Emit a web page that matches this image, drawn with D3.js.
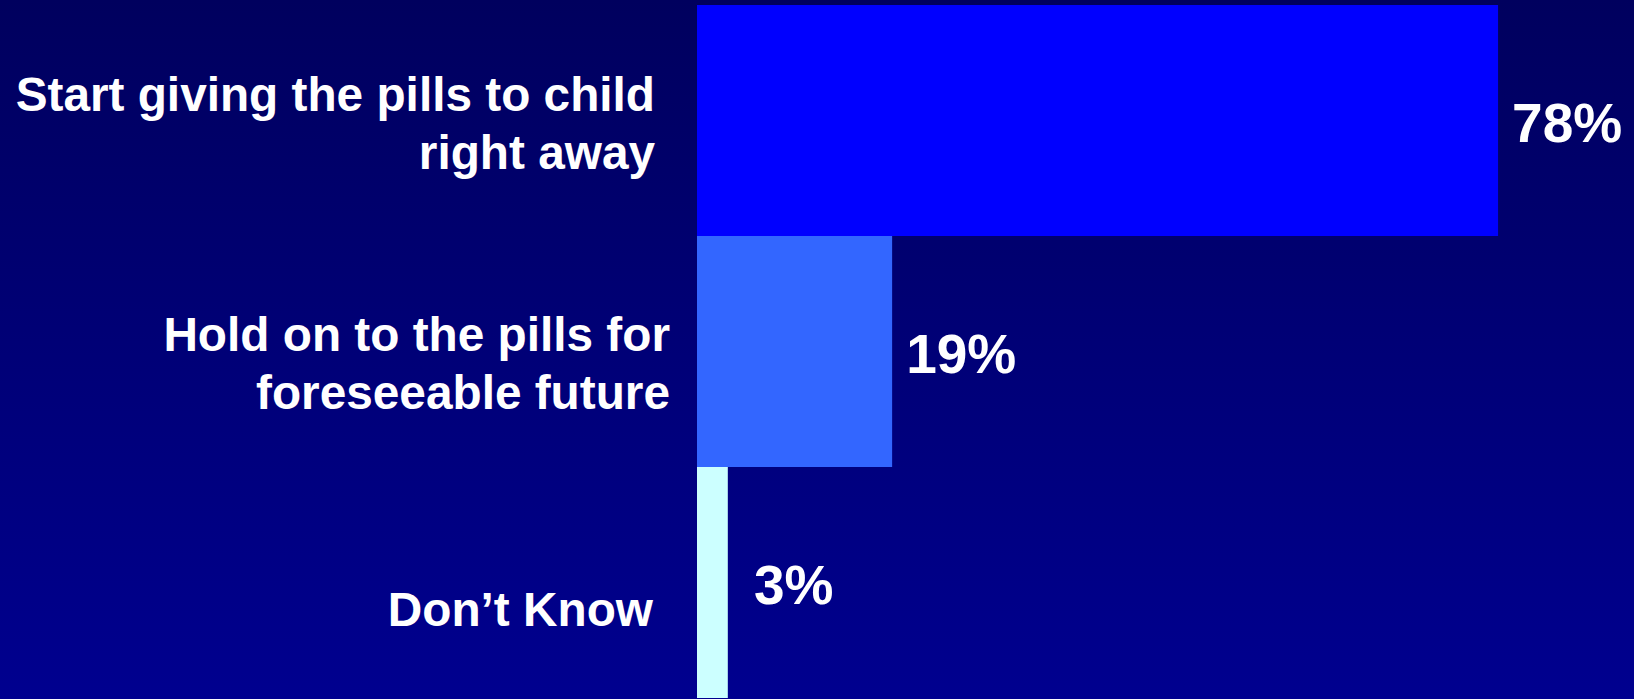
<!DOCTYPE html>
<html>
<head>
<meta charset="utf-8">
<script src="https://cdn.jsdelivr.net/npm/d3@7"></script>
<style>
  html, body { margin: 0; padding: 0; overflow: hidden; background: #000070; }
  svg { display: block; }
</style>
</head>
<body>
<script>
// Survey responses: what parents would do with the pills
const categories = [
  ["Start giving the pills to child", "right away"],
  ["Hold on to the pills for", "foreseeable future"],
  ["Don\u2019t Know"]
];
const values = [78, 19, 3];
const barColors = ["#0000FF", "#3366FF", "#CCFFFF"];

const W = 1634, H = 699;
const svg = d3.select("body").append("svg")
  .attr("width", W).attr("height", H);

// Vertical background gradient, dark navy to slightly brighter blue
const defs = svg.append("defs");
const grad = defs.append("linearGradient")
  .attr("id", "bg").attr("x1", 0).attr("y1", 0).attr("x2", 0).attr("y2", 1);
grad.append("stop").attr("offset", "0%").attr("stop-color", "#00005E");
grad.append("stop").attr("offset", "100%").attr("stop-color", "#00008F");
svg.append("rect").attr("width", W).attr("height", H).attr("fill", "url(#bg)");

const keys = categories.map((c, i) => i);
const x = d3.scaleLinear().domain([0, 100]).range([697, 1724]);
const y = d3.scaleBand().domain(keys).range([5, 698]).padding(0);

// Bars
svg.selectAll("rect.bar")
  .data(values)
  .join("rect")
  .attr("class", "bar")
  .attr("x", x(0))
  .attr("y", (d, i) => y(i))
  .attr("width", d => x(d) - x(0))
  .attr("height", y.bandwidth())
  .attr("fill", (d, i) => barColors[i]);

// Value labels to the right of each bar
svg.selectAll("text.value")
  .data(values)
  .join("text")
  .attr("class", "value")
  .attr("x", d => Math.max(x(d) + 14, x(0) + 57))
  .attr("y", (d, i) => y(i) + y.bandwidth() / 2 + 21)
  .attr("fill", "#FFFFFF")
  .attr("font-family", "'Liberation Sans', Arial, sans-serif")
  .attr("font-weight", "bold")
  .attr("font-size", 55)
  .text(d => d + "%");

// Category labels, right-aligned to the left of the bars
const labelRight = [655, 670, 653];
const lastBaseline = [48, 57, 43];
const lineHeight = 58;
categories.forEach((lines, i) => {
  const cy = y(i) + y.bandwidth() / 2;
  const t = svg.append("text")
    .attr("text-anchor", "end")
    .attr("fill", "#FFFFFF")
    .attr("font-family", "'Liberation Sans', Arial, sans-serif")
    .attr("font-weight", "bold")
    .attr("font-size", 47.75);
  lines.forEach((line, j) => {
    t.append("tspan")
      .attr("x", labelRight[i])
      .attr("y", cy + lastBaseline[i] - (lines.length - 1 - j) * lineHeight)
      .text(line);
  });
});
</script>
</body>
</html>
